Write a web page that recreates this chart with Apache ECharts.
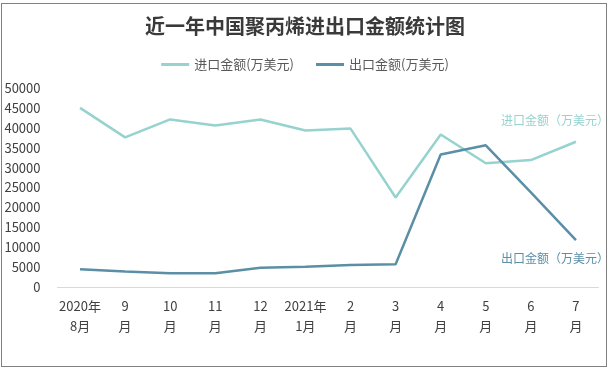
<!DOCTYPE html>
<html>
<head>
<meta charset="utf-8">
<script src="https://cdn.jsdelivr.net/npm/echarts@6/dist/echarts.min.js"></script>
<style>
  html, body { margin: 0; padding: 0; background: #fff; }
  #wrap { position: relative; width: 610px; height: 371px; }
  #chart { position: absolute; left: 0; top: 0; width: 610px; height: 371px; }
  #frame { position: absolute; left: 1px; top: 3px; width: 604px; height: 362px; border: 1px solid #808080; pointer-events: none; }
</style>
</head>
<body>
<div id="wrap">
  <div id="chart"></div>
  <div id="frame"></div>
</div>
<script>
const titleText = '近一年中国聚丙烯进出口金额统计图';
const categories = ['2020年\n8月', '9\n月', '10\n月', '11\n月', '12\n月', '2021年\n1月', '2\n月', '3\n月', '4\n月', '5\n月', '6\n月', '7\n月'];
const importName = '进口金额(万美元)';
const exportName = '出口金额(万美元)';
const importEndLabel = '进口金额（万美元）';
const exportEndLabel = '出口金额（万美元）';
const importValues = [45000, 37600, 42100, 40600, 42100, 39300, 39800, 22500, 38300, 31100, 31900, 36500];
const exportValues = [4450, 3900, 3450, 3450, 4850, 5100, 5500, 5700, 33300, 35600, 23800, 11800];

const FONT = '"Noto Sans CJK SC", "Microsoft YaHei", sans-serif';
const importColor = '#96d3cf';
const exportColor = '#5a8fa6';

const chart = echarts.init(document.getElementById('chart'));
chart.setOption({
  animation: false,
  textStyle: { fontFamily: FONT },
  title: {
    text: titleText,
    left: 'center',
    top: 11,
    textStyle: { fontFamily: FONT, fontSize: 20, fontWeight: 'bold', color: '#3a3a3a' }
  },
  legend: {
    top: 53,
    left: 'center',
    itemWidth: 28,
    itemHeight: 3,
    itemGap: 22,
    icon: 'rect',
    textStyle: { fontFamily: FONT, fontSize: 13, color: '#595959' },
    data: [importName, exportName]
  },
  grid: { left: 57.5, right: 11.5, top: 88, bottom: 84, containLabel: false },
  xAxis: {
    type: 'category',
    data: categories,
    boundaryGap: true,
    axisLine: { lineStyle: { color: '#d9d9d9', width: 1 } },
    axisTick: { show: false },
    axisLabel: { interval: 0, margin: 9, fontSize: 13, lineHeight: 20, color: '#404040', fontFamily: FONT }
  },
  yAxis: {
    type: 'value',
    min: 0,
    max: 50000,
    interval: 5000,
    splitLine: { show: false },
    axisLine: { show: false },
    axisTick: { show: false },
    axisLabel: { margin: 17, fontSize: 13, color: '#404040', fontFamily: FONT, formatter: v => String(v) }
  },
  series: [
    {
      name: importName,
      type: 'line',
      data: importValues,
      showSymbol: false,
      symbol: 'none',
      itemStyle: { color: importColor },
      lineStyle: { color: importColor, width: 2.5 },
      endLabel: {
        show: true,
        formatter: importEndLabel,
        offset: [-83, -21],
        fontSize: 12,
        color: importColor,
        fontFamily: FONT
      }
    },
    {
      name: exportName,
      type: 'line',
      data: exportValues,
      showSymbol: false,
      symbol: 'none',
      itemStyle: { color: exportColor },
      lineStyle: { color: exportColor, width: 2.5 },
      endLabel: {
        show: true,
        formatter: exportEndLabel,
        offset: [-83, 18],
        fontSize: 12,
        color: exportColor,
        fontFamily: FONT
      }
    }
  ]
});
</script>
</body>
</html>
